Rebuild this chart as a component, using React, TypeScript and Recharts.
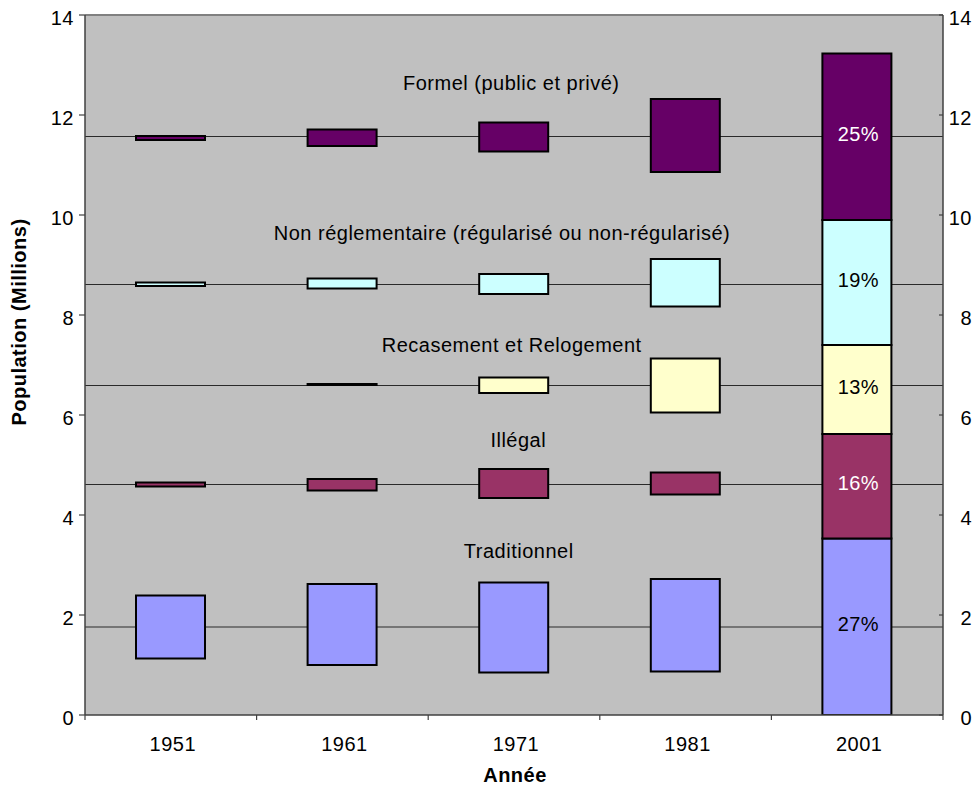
import React from 'react';
import {
  BarChart,
  Bar,
  XAxis,
  YAxis,
  CartesianGrid,
  ReferenceLine,
  ReferenceDot,
  LabelList,
} from 'recharts';

// ---------- data ----------
const years = ['1951', '1961', '1971', '1981', '2001'];
const seriesNames = [
  'Traditionnel',
  'Illégal',
  'Recasement et Relogement',
  'Non réglementaire (régularisé ou non-régularisé)',
  'Formel (public et privé)',
];
const tradLow = [1.13, 1.0, 0.85, 0.87, 0];
const tradHigh = [2.39, 2.62, 2.65, 2.72, 3.53];
const illegalLow = [4.57, 4.49, 4.34, 4.41, 3.53];
const illegalHigh = [4.65, 4.72, 4.92, 4.85, 5.62];
const recasLow = [6.6, 6.6, 6.44, 6.05, 5.62];
const recasHigh = [6.6, 6.62, 6.75, 7.13, 7.4];
const nonRegLow = [8.58, 8.53, 8.42, 8.17, 7.4];
const nonRegHigh = [8.65, 8.73, 8.82, 9.12, 9.9];
const formelLow = [11.5, 11.38, 11.27, 10.86, 9.9];
const formelHigh = [11.58, 11.71, 11.85, 12.32, 13.23];
const shares2001 = ['27%', '16%', '13%', '19%', '25%'];
const centerLevels = [1.76, 4.61, 6.59, 8.61, 11.57];
const annotationLevels = [3.28, 5.51, 7.4, 9.64, 12.65];
const yTicks = [0, 2, 4, 6, 8, 10, 12, 14];

const lows = [tradLow, illegalLow, recasLow, nonRegLow, formelLow];
const highs = [tradHigh, illegalHigh, recasHigh, nonRegHigh, formelHigh];

// ---------- styles ----------
const FONT = "'Liberation Sans', Arial, Helvetica, sans-serif";
const colors = ['#9999FF', '#993366', '#FFFFCC', '#CCFFFF', '#660066'];
const shareColors = ['#000000', '#FFFFFF', '#000000', '#000000', '#FFFFFF'];
const annotationDx = [4.7, 4.3, -2.3, -12, -2.7];
const AXIS = '#404040';

const r4 = (v: number) => Math.round(v * 10000) / 10000;

const data = years.map((year, i) => {
  const row: Record<string, any> = { year };
  let prevHigh = 0;
  for (let s = 0; s < seriesNames.length; s++) {
    row[`gap${s}`] = r4(lows[s][i] - prevHigh);
    row[`seg${s}`] = r4(highs[s][i] - lows[s][i]);
    row[`share${s}`] = i === years.length - 1 ? shares2001[s] : '';
    prevHigh = highs[s][i];
  }
  return row;
});

const textStyle = {
  fontFamily: FONT,
  fontSize: 20,
  letterSpacing: 0.5,
};

const XTick = (p: any) => {
  const { x, y, payload, index, visibleTicksCount, width } = p;
  const half =
    typeof payload?.offset === 'number' && payload.offset > 0
      ? payload.offset
      : Number(width) / Number(visibleTicksCount) / 2;
  return (
    <g>
      <line x1={x - half} x2={x - half} y1={y} y2={y + 5} stroke={AXIS} strokeWidth={1.2} />
      {index === visibleTicksCount - 1 && (
        <line x1={x + half} x2={x + half} y1={y} y2={y + 5} stroke={AXIS} strokeWidth={1.2} />
      )}
      <text x={x + 2} y={y + 36} textAnchor="middle" fill="#000" style={textStyle}>
        {payload.value}
      </text>
    </g>
  );
};

const LeftTick = (p: any) => {
  const { x, y, payload } = p;
  return (
    <text x={x - 5} y={y + 9.5} textAnchor="end" fill="#000" style={textStyle}>
      {payload.value}
    </text>
  );
};

const RightTick = (p: any) => {
  const { x, y, payload } = p;
  return (
    <g>
      <line x1={x - 4} x2={x} y1={y} y2={y} stroke={AXIS} strokeWidth={1.2} />
      <text x={x + 29} y={y + 9.5} textAnchor="end" fill="#000" style={textStyle}>
        {payload.value}
      </text>
    </g>
  );
};

const YTitle = (p: any) => {
  const vb = p?.viewBox && typeof p.viewBox.height === 'number' ? p.viewBox : { x: 0, y: 15, width: 85, height: 700 };
  const cx = vb.x + 19;
  const cy = vb.y + vb.height / 2 - 43;
  return (
    <text
      x={cx}
      y={cy}
      dy="0.355em"
      transform={`rotate(-90 ${cx} ${cy})`}
      textAnchor="middle"
      fill="#000"
      style={{ ...textStyle, fontWeight: 'bold' }}
    >
      Population (Millions)
    </text>
  );
};

const makeShareLabel = (color: string) => (p: any) => {
  const { x, y, width, height, value } = p;
  if (!value) return null;
  const cx = Number(x) + Number(width) / 2 + 1.5;
  const cy = Number(y) + Number(height) / 2 - 3;
  return (
    <text x={cx} y={cy} dy="0.355em" textAnchor="middle" fill={color} style={textStyle}>
      {value}
    </text>
  );
};

const makeAnnotation = (name: string, dx: number) => (p: any) => (
  <text x={p.cx + dx} y={p.cy} dy="0.355em" textAnchor="middle" fill="#000" style={textStyle}>
    {name}
  </text>
);

export default function App() {
  return (
    <div style={{ width: 976, height: 787, background: '#fff' }}>
      <style>{`html,body{margin:0;padding:0;overflow:hidden;background:#fff}`}</style>
      <BarChart
        width={976}
        height={787}
        data={data}
        margin={{ top: 15, right: 0, bottom: 0, left: 0 }}
      >
        <CartesianGrid yAxisId="left" fill="#C0C0C0" horizontal={false} vertical={false} stroke="none" />
        <XAxis
          dataKey="year"
          type="category"
          height={72}
          interval={0}
          tickLine={false}
          tickSize={0}
          tickMargin={0}
          axisLine={{ stroke: AXIS, strokeWidth: 1.5 }}
          tick={(p: any) => <XTick {...p} />}
          label={{
            value: 'Année',
            position: 'insideBottom',
            offset: 5,
            dx: 1,
            fill: '#000',
            fontSize: 20,
            fontWeight: 'bold',
            fontFamily: FONT,
            letterSpacing: 0.5,
          }}
        />
        <YAxis
          yAxisId="left"
          orientation="left"
          width={85}
          domain={[0, 14]}
          ticks={yTicks}
          interval={0}
          allowDataOverflow
          tickSize={6}
          tickMargin={0}
          axisLine={{ stroke: AXIS, strokeWidth: 1.5 }}
          tickLine={{ stroke: AXIS, strokeWidth: 1.2 }}
          tick={(p: any) => <LeftTick {...p} />}
          label={(p: any) => <YTitle {...p} />}
        />
        <YAxis
          yAxisId="right"
          orientation="right"
          width={33}
          domain={[0, 14]}
          ticks={yTicks}
          interval={0}
          allowDataOverflow
          tickSize={0}
          tickMargin={0}
          tickLine={false}
          axisLine={{ stroke: AXIS, strokeWidth: 1.5 }}
          tick={(p: any) => <RightTick {...p} />}
        />
        <ReferenceLine yAxisId="left" y={14} stroke="#808080" strokeWidth={2} />
        {centerLevels.map((v, i) => (
          <ReferenceLine
            key={`c${i}`}
            yAxisId="left"
            y={v}
            stroke="#2a2a2a"
            strokeWidth={1}
            {...({ zIndex: 0 } as any)}
          />
        ))}
        {seriesNames.flatMap((name, s) => [
          <Bar
            key={`gap${s}`}
            yAxisId="left"
            dataKey={`gap${s}`}
            stackId="a"
            fill="transparent"
            stroke="none"
            barSize={69}
            isAnimationActive={false}
            legendType="none"
          />,
          <Bar
            key={`seg${s}`}
            yAxisId="left"
            dataKey={`seg${s}`}
            name={name}
            stackId="a"
            fill={colors[s]}
            stroke="#000"
            strokeWidth={2}
            barSize={69}
            isAnimationActive={false}
          >
            <LabelList dataKey={`share${s}`} content={makeShareLabel(shareColors[s])} />
          </Bar>,
        ])}
        {seriesNames.map((name, s) => (
          <ReferenceDot
            key={`a${s}`}
            yAxisId="left"
            x="1971"
            y={annotationLevels[s]}
            r={1}
            fill="none"
            stroke="none"
            shape={makeAnnotation(name, annotationDx[s])}
          />
        ))}
      </BarChart>
    </div>
  );
}
